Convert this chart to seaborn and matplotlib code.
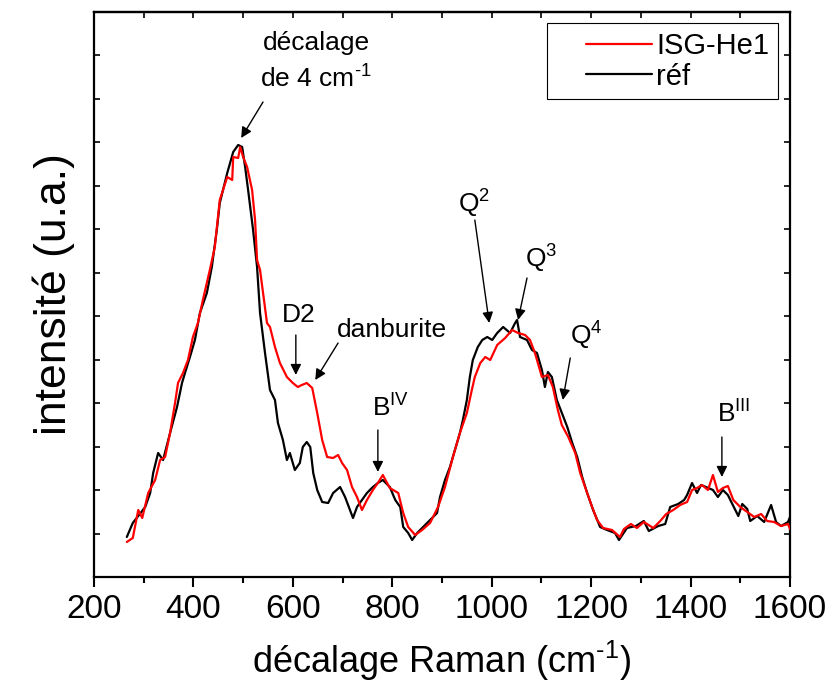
import numpy as np
import pandas as pd
import matplotlib
matplotlib.use("Agg")
import matplotlib.pyplot as plt
from matplotlib.ticker import MultipleLocator
from matplotlib.legend_handler import HandlerLine2D
import seaborn as sns

# Raman spectra (intensity in arbitrary units)
ref_shift = [266, 278, 303, 313, 319, 329, 339, 353, 367, 377, 383, 393, 403, 413,
             427, 437, 447, 453, 468, 480, 490, 498, 504, 510, 520, 528, 534, 544,
             554, 564, 570, 580, 588, 594, 604, 614, 620, 628, 635, 641, 649, 659,
             671, 681, 695, 705, 715, 721, 729, 739, 749, 761, 771, 781, 795, 806,
             816, 822, 832, 840, 850, 862, 876, 890, 896, 906, 916, 926, 936, 942,
             950, 956, 962, 972, 981, 991, 1001, 1011, 1023, 1037, 1047, 1051, 1057,
             1071, 1081, 1091, 1101, 1107, 1113, 1121, 1131, 1141, 1152, 1162, 1172,
             1182, 1192, 1204, 1218, 1232, 1248, 1256, 1272, 1290, 1306, 1316, 1335,
             1349, 1359, 1375, 1387, 1393, 1403, 1413, 1421, 1431, 1445, 1455, 1465,
             1475, 1485, 1496, 1504, 1514, 1520, 1534, 1548, 1562, 1572, 1582, 1596,
             1600]
ref_int = [40, 54, 70, 84, 104, 124, 117, 144, 170, 194, 204, 220, 237, 264,
           284, 310, 347, 374, 404, 425, 432, 430, 410, 387, 347, 310, 264, 224,
           187, 177, 154, 137, 117, 124, 107, 114, 130, 135, 130, 104, 87, 75,
           74, 84, 90, 80, 67, 59, 70, 77, 84, 90, 94, 97, 90, 77,
           70, 50, 44, 37, 44, 50, 57, 64, 80, 97, 110, 127, 144, 157,
           177, 200, 217, 230, 237, 240, 237, 244, 250, 244, 254, 257, 240,
           237, 227, 224, 207, 190, 205, 200, 177, 164, 150, 134, 120,
           100, 84, 67, 50, 47, 44, 37, 49, 51, 56, 46, 51,
           53, 70, 73, 77, 82, 94, 84, 92, 90, 87, 80, 87,
           82, 72, 61, 73, 68, 56, 61, 55, 72, 55, 51, 55,
           60]

isg_shift = [266, 278, 289, 297, 309, 323, 333, 343, 353, 363, 369, 379, 389, 399,
             409, 419, 433, 443, 453, 468, 478, 480, 490, 494, 500, 508, 518, 524,
             528, 534, 548, 554, 564, 574, 588, 600, 610, 618, 628, 639, 649, 659,
             669, 681, 691, 699, 709, 719, 729, 739, 749, 761, 771, 781, 795, 812,
             822, 832, 846, 860, 876, 892, 906, 922, 936, 950, 960, 966, 977, 987,
             997, 1011, 1027, 1041, 1053, 1067, 1077, 1087, 1101, 1113, 1123, 1133,
             1141, 1154, 1168, 1178, 1192, 1202, 1212, 1224, 1242, 1258, 1266, 1280,
             1292, 1306, 1325, 1339, 1351, 1365, 1379, 1393, 1403, 1413, 1423, 1435,
             1445, 1455, 1465, 1475, 1486, 1500, 1514, 1528, 1542, 1554, 1568, 1582,
             1596, 1600]
isg_int = [35, 39, 67, 59, 84, 97, 117, 120, 144, 174, 194, 204, 217, 240,
           254, 277, 307, 330, 377, 400, 397, 420, 419, 430, 420, 410, 387, 357,
           317, 307, 254, 250, 230, 214, 200, 194, 190, 192, 194, 189, 164, 137,
           120, 119, 122, 114, 107, 90, 80, 67, 77, 87, 94, 102, 89, 84,
           64, 50, 42, 47, 54, 70, 90, 120, 144, 164, 187, 200, 214, 220,
           217, 232, 239, 247, 244, 242, 237, 224, 200, 202, 190, 167,
           152, 140, 124, 104, 84, 70, 57, 49, 47, 40, 48, 53,
           49, 55, 49, 56, 63, 67, 72, 75, 87, 89, 92, 87,
           102, 85, 89, 91, 77, 70, 65, 60, 63, 56, 55, 51,
           53, 48]

# peak labels: text, left/baseline position, arrow tail, arrow head
labels = ["D2", "danburite", r"B$^{\mathregular{IV}}$", r"Q$^{\mathregular{2}}$",
          r"Q$^{\mathregular{3}}$", r"Q$^{\mathregular{4}}$", r"B$^{\mathregular{III}}$"]
label_x = [578, 689, 759, 932, 1067, 1158, 1453]
label_y = [255, 240, 160, 364, 309, 232, 154]
arrow_tail = [(540, 475), (606, 242), (691, 234), (771, 147), (966, 357),
              (1071, 299), (1158, 219), (1463, 140)]
arrow_head = [(496, 439), (606, 202), (645, 197), (771, 105), (995, 254),
              (1053, 257), (1143, 177), (1463, 100)]

sns.set_style("ticks")
plt.rcParams['font.family'] = ['Liberation Sans', 'DejaVu Sans']
plt.rcParams['mathtext.fontset'] = 'custom'
plt.rcParams['mathtext.rm'] = 'Liberation Sans'
plt.rcParams['mathtext.it'] = 'Liberation Sans:italic'
plt.rcParams['mathtext.bf'] = 'Liberation Sans:bold'
for k in ['text.color', 'axes.labelcolor', 'xtick.color', 'ytick.color', 'axes.edgecolor']:
    plt.rcParams[k] = 'black'


class PaddedLine(HandlerLine2D):
    # leave some empty room before the line sample, like the original legend
    def create_artists(self, legend, orig_handle, xdescent, ydescent, width,
                       height, fontsize, trans):
        pad = 1.05 * fontsize
        return super().create_artists(legend, orig_handle, xdescent - pad, ydescent,
                                      width - pad, height, fontsize, trans)


df = pd.concat([
    pd.DataFrame({"shift": isg_shift, "int": isg_int, "echantillon": "ISG-He1"}),
    pd.DataFrame({"shift": ref_shift, "int": ref_int, "echantillon": "réf"}),
])

fig = plt.figure(figsize=(8.26, 6.87), dpi=100)
ax = fig.add_axes([94 / 826, 1 - 577 / 687, 696 / 826, 565 / 687])

sns.lineplot(data=df, x="shift", y="int", hue="echantillon", sort=False,
             estimator=None, palette={"ISG-He1": "#ff0000", "réf": "black"},
             hue_order=["ISG-He1", "réf"], linewidth=1.6, ax=ax)
ax.lines[0].set_zorder(3)

ax.set_xlim(200, 1600)
ax.set_ylim(0, 565)
ax.xaxis.set_major_locator(MultipleLocator(200))
ax.xaxis.set_minor_locator(MultipleLocator(100))
ax.set_yticks(np.linspace(0, 565, 14))
ax.tick_params(axis='x', which='major', direction='out', length=7, width=1.5,
               labelsize=24, pad=5)
ax.tick_params(axis='x', which='minor', direction='out', length=4, width=1.5)
ax.tick_params(axis='y', direction='in', left=True, right=True, length=4,
               width=1.2, labelleft=False)
top = ax.secondary_xaxis('top')
top.set_xticks(np.arange(200, 1601, 100))
top.tick_params(direction='in', length=4, width=1.2, labeltop=False)
for s in ax.spines.values():
    s.set_linewidth(1.6)
    s.set_visible(True)
top.spines['top'].set_linewidth(1.6)

ax.set_xlabel(r"décalage Raman (cm$^{\text{-1}}$)", fontsize=26, labelpad=10)
ax.set_ylabel("intensité (u.a.)", fontsize=32, labelpad=14)

ax.text(647, 527, "décalage", fontsize=19, ha='center', va='baseline')
ax.text(647, 489, r"de 4 cm$^{\text{-1}}$", fontsize=19, ha='center', va='baseline')
for i, lab in enumerate(labels):
    ax.text(label_x[i], label_y[i], lab, fontsize=19, ha='left', va='baseline')
for tail, head in zip(arrow_tail, arrow_head):
    ax.annotate("", xy=head, xytext=tail,
                arrowprops=dict(arrowstyle='-|>', color='black', lw=1,
                                mutation_scale=16, shrinkA=0, shrinkB=0))

leg = ax.legend(loc='upper right', bbox_to_anchor=(0.983, 0.9805),
                borderaxespad=0, fontsize=21, handlelength=3.3,
                handletextpad=0.15, labelspacing=0.1, borderpad=0.3,
                fancybox=False, framealpha=1, edgecolor='black',
                handler_map={plt.Line2D: PaddedLine()})
leg.get_frame().set_linewidth(0.8)
for h in leg.get_lines():
    h.set_linewidth(1.6)

plt.savefig("out.png", dpi=100)
